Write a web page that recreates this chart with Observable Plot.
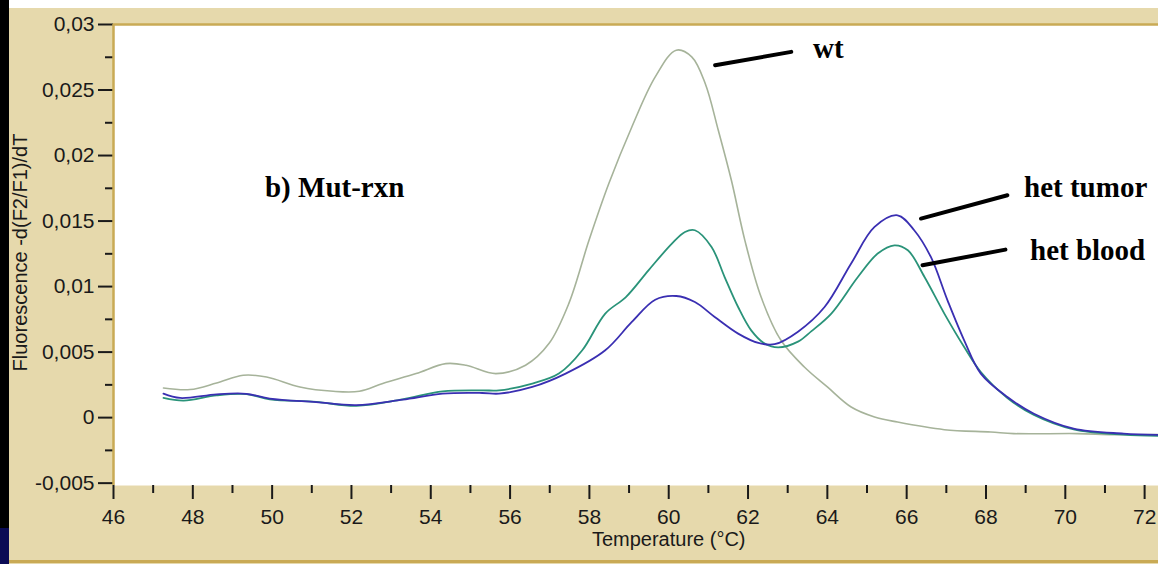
<!DOCTYPE html>
<html>
<head>
<meta charset="utf-8">
<script src="https://cdn.jsdelivr.net/npm/d3@7"></script>
<script src="https://cdn.jsdelivr.net/npm/@observablehq/plot@0.6"></script>
<style>
  html, body { margin: 0; padding: 0; background: #ffffff; }
  #wrap { position: relative; width: 1158px; height: 564px; overflow: hidden; background: #e6d9ac; }
  #wrap svg { position: absolute; left: 0; top: 0; }
  .strip { position: absolute; }
</style>
</head>
<body>
<div id="wrap"></div>
<script>
// ---- data ----
const wtTemp = [47.26, 47.93, 48.6, 49.27, 49.86, 50.7, 51.54, 52.2, 52.79, 53.63, 54.38, 54.89, 55.64, 56.39, 56.98, 57.48, 57.99, 58.49, 59.07, 59.66, 60.19, 60.58, 60.92, 61.25, 61.58, 61.92, 62.33, 62.83, 63.42, 64.0, 64.6, 65.19, 65.77, 66.95, 68.12, 68.7, 70.3, 71.2, 72.35];
const wtValue = [0.00226, 0.00214, 0.00264, 0.00323, 0.0031, 0.00234, 0.00201, 0.00201, 0.0026, 0.00336, 0.00412, 0.004, 0.00336, 0.0040, 0.00565, 0.0087, 0.01353, 0.01786, 0.02218, 0.0260, 0.02804, 0.02753, 0.0255, 0.02193, 0.01811, 0.01353, 0.0092, 0.0059, 0.00386, 0.00234, 0.00081, 0.00005, -0.00034, -0.00092, -0.0011, -0.00122, -0.00122, -0.0013, -0.0013];

const tumorTemp = [47.26, 47.68, 48.6, 49.35, 49.94, 51.11, 52.12, 53.29, 54.3, 55.3, 55.72, 56.56, 57.4, 58.4, 59.07, 59.66, 60.19, 60.66, 61.16, 61.75, 62.26, 62.67, 63.26, 63.93, 64.6, 65.19, 65.77, 66.19, 66.61, 67.03, 67.45, 67.87, 68.54, 69.21, 70.21, 71.47, 72.35];
const tumorValue = [0.00183, 0.0015, 0.00178, 0.00182, 0.00145, 0.00118, 0.00096, 0.00137, 0.00183, 0.00188, 0.00183, 0.00234, 0.00336, 0.00514, 0.0073, 0.009, 0.00928, 0.00882, 0.00768, 0.00641, 0.0057, 0.0056, 0.00656, 0.00844, 0.01176, 0.01455, 0.01544, 0.0143, 0.01226, 0.00895, 0.0059, 0.00336, 0.00157, 0.0003, -0.00084, -0.00122, -0.00132];

const bloodTemp = [47.26, 47.77, 48.6, 49.35, 49.94, 51.11, 52.12, 53.29, 54.3, 55.3, 55.72, 56.56, 57.23, 57.82, 58.4, 58.92, 59.49, 60.08, 60.41, 60.66, 61.08, 61.41, 61.75, 62.08, 62.42, 62.76, 63.26, 63.6, 64.1, 64.77, 65.27, 65.69, 66.03, 66.45, 66.95, 67.45, 67.87, 68.54, 69.21, 70.21, 71.47, 72.35];
const bloodValue = [0.0015, 0.0013, 0.0017, 0.0018, 0.0014, 0.0012, 0.0009, 0.0014, 0.002, 0.00208, 0.00208, 0.0026, 0.00336, 0.00514, 0.00794, 0.0092, 0.01124, 0.01328, 0.01417, 0.0143, 0.01302, 0.01073, 0.00844, 0.00666, 0.00565, 0.00536, 0.0058, 0.0066, 0.00794, 0.01073, 0.01252, 0.01315, 0.01277, 0.01073, 0.00794, 0.00539, 0.00348, 0.0015, 0.0002, -0.0009, -0.0013, -0.0014];

const xTicks = [46, 48, 50, 52, 54, 56, 58, 60, 62, 64, 66, 68, 70, 72];
const xMinor = [47, 49, 51, 53, 55, 57, 59, 61, 63, 65, 67, 69, 71];
const yTicks = [-0.005, 0, 0.005, 0.01, 0.015, 0.02, 0.025, 0.03];
const yTickLabels = ["-0,005", "0", "0,005", "0,01", "0,015", "0,02", "0,025", "0,03"];
const yMinor = [-0.0025, 0.0025, 0.0075, 0.0125, 0.0175, 0.0225, 0.0275];

const labelText = ["wt", "b) Mut-rxn", "het tumor", "het blood"];
const labelT = [63.64, 49.82, 68.96, 69.11];
const labelV = [0.02812, 0.01754, 0.01754, 0.01271];

const leaderT1 = [61.17, 66.36, 66.4];
const leaderV1 = [0.02689, 0.01519, 0.01163];
const leaderT2 = [63.09, 68.54, 68.49];
const leaderV2 = [0.02791, 0.01697, 0.01282];

const xTitle = "Temperature (°C)";
const yTitle = "Fluorescence -d(F2/F1)/dT";

// ---- build tables ----
const toRows = (ts, vs) => ts.map((t, i) => ({t, v: vs[i]}));
const wtRows = toRows(wtTemp, wtValue);
const tumorRows = toRows(tumorTemp, tumorValue);
const bloodRows = toRows(bloodTemp, bloodValue);
const labels = labelText.map((s, i) => ({s, t: labelT[i], v: labelV[i]}));
const leaders = leaderT1.map((t, i) => ({t1: t, v1: leaderV1[i], t2: leaderT2[i], v2: leaderV2[i]}));
const yFmt = d => yTickLabels[yTicks.indexOf(d)];

const gold = "#c9aa55";
const ink = "#1a1a1a";

const chart = Plot.plot({
  width: 1158,
  height: 564,
  marginLeft: 113,
  marginRight: 0,
  marginTop: 24,
  marginBottom: 79,
  style: {background: "transparent", fontFamily: "'Liberation Sans', Arial, sans-serif", fontSize: "21px", color: ink},
  x: {domain: [46, 72.35], label: null},
  y: {domain: [-0.00518, 0.03], label: null},
  marks: [
    Plot.frame({fill: "white", stroke: "none"}),
    Plot.axisY({ticks: yTicks, tickFormat: yFmt, tickSize: 15, tickPadding: 4, fontSize: 21, strokeWidth: 2, color: ink, label: null}),
    Plot.axisY({ticks: yMinor, tickFormat: () => "", tickSize: 8, strokeWidth: 2, color: ink, label: null}),
    Plot.axisX({ticks: xTicks, tickSize: 14, tickPadding: 10, fontSize: 21, strokeWidth: 2, color: ink, label: null}),
    Plot.axisX({ticks: xMinor, tickFormat: () => "", tickSize: 8, strokeWidth: 2, color: ink, label: null}),
    Plot.ruleX([46], {stroke: gold, strokeWidth: 2.5}),
    Plot.ruleY([0.03], {stroke: gold, strokeWidth: 2.5}),
    Plot.line(wtRows, {x: "t", y: "v", stroke: "#a6b39a", strokeWidth: 1.6, curve: "catmull-rom", clip: true}),
    Plot.line(bloodRows, {x: "t", y: "v", stroke: "#2a9379", strokeWidth: 1.8, curve: "catmull-rom", clip: true}),
    Plot.line(tumorRows, {x: "t", y: "v", stroke: "#3a2fb2", strokeWidth: 1.8, curve: "catmull-rom", clip: true}),
    Plot.link(leaders, {x1: "t1", y1: "v1", x2: "t2", y2: "v2", stroke: "#000", strokeWidth: 4, strokeLinecap: "round"}),
    Plot.text(labels, {x: "t", y: "v", text: "s", textAnchor: "start", fontFamily: "'Liberation Serif', 'Times New Roman', serif", fontWeight: "bold", fontSize: 29, fill: "#000"}),
    Plot.text([xTitle], {x: [60], frameAnchor: "bottom", dy: 60, fontSize: 20, fill: ink}),
    Plot.text([yTitle], {y: [0.0126], frameAnchor: "left", dx: -93, rotate: -90, textAnchor: "middle", fontSize: 20, fill: ink})
  ]
});

const wrap = document.getElementById("wrap");
wrap.appendChild(chart);
function strip(css) {
  const d = document.createElement("div");
  d.className = "strip";
  d.setAttribute("style", css);
  wrap.appendChild(d);
}
strip("left:0;top:0;width:1158px;height:8px;background:#ffffff;");
strip("left:0;top:0;width:9px;height:564px;background:#000000;");
strip("left:0;top:528px;width:9px;height:36px;background:#0b0b55;");
strip("left:9px;top:560px;width:1149px;height:3px;background:" + gold + ";");
</script>
</body>
</html>
